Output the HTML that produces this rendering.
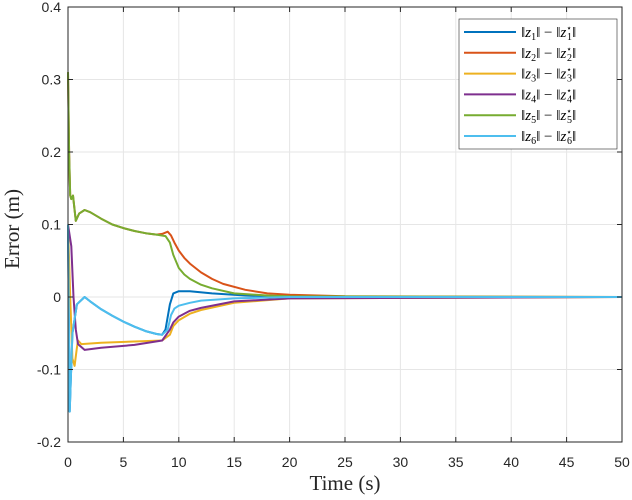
<!DOCTYPE html>
<html><head><meta charset="utf-8"><style>
body{margin:0;background:#fff;}
svg{display:block;font-family:"Liberation Serif",serif;}
</style></head><body>
<svg id="chart" width="632" height="500"></svg>
<script>
const xTicks=[0,5,10,15,20,25,30,35,40,45,50];
const yTicks=[-0.2,-0.1,0,0.1,0.2,0.3,0.4];
const yTickLabels=["-0.2","-0.1","0","0.1","0.2","0.3","0.4"];
const t1=[0,0.15,0.4,0.8,1.5,2,3,4,5,6,7,8,8.5,8.8,9.2,9.5,10,11,13,16,20,50];
const v1=[0.1,-0.158,-0.05,-0.01,0,-0.006,-0.017,-0.026,-0.034,-0.041,-0.047,-0.051,-0.052,-0.045,-0.01,0.005,0.008,0.008,0.005,0.002,0,0];
const t2=[0,0.1,0.2,0.3,0.45,0.7,1,1.5,2,3,4,5,6,7,8,8.5,9,9.3,9.6,10,10.5,11,12,13,14,16,18,20,25,50];
const v2=[0.31,0.2,0.14,0.135,0.14,0.105,0.115,0.12,0.117,0.108,0.1,0.095,0.091,0.088,0.086,0.087,0.09,0.085,0.075,0.064,0.054,0.046,0.034,0.025,0.018,0.01,0.005,0.003,0.001,0];
const t3=[0,0.2,0.4,0.6,0.8,0.9,1.2,3,8.5,9.2,9.5,10,11,12,15,20,50];
const v3=[0.1,0.0,-0.085,-0.095,-0.07,-0.06,-0.065,-0.063,-0.06,-0.052,-0.04,-0.032,-0.023,-0.018,-0.008,-0.002,0];
const t4=[0,0.3,0.5,0.7,0.9,1.5,3,6,8.5,9.2,9.5,10,11,12,15,20,50];
const v4=[0.1,0.07,0.0,-0.045,-0.065,-0.073,-0.07,-0.066,-0.06,-0.045,-0.035,-0.027,-0.019,-0.015,-0.006,-0.002,0];
const t5=[0,0.1,0.2,0.3,0.45,0.7,1,1.5,2,3,4,5,6,7,8,8.8,9.2,9.5,10,10.5,11,12,13,15,18,20,50];
const v5=[0.31,0.2,0.14,0.135,0.14,0.105,0.115,0.12,0.117,0.108,0.1,0.095,0.091,0.088,0.086,0.084,0.075,0.058,0.04,0.031,0.025,0.017,0.012,0.005,0.002,0.001,0];
const t6=[0,0.15,0.4,0.8,1.5,2,3,4,5,6,7,8,8.5,9,9.3,9.6,10,11,12,15,20,50];
const v6=[0.1,-0.158,-0.05,-0.01,0,-0.006,-0.017,-0.026,-0.034,-0.041,-0.047,-0.051,-0.052,-0.045,-0.025,-0.016,-0.012,-0.008,-0.005,-0.002,0,0];
const series=[[t1,v1,"#0072BD"],[t2,v2,"#D95319"],[t3,v3,"#EDB120"],[t4,v4,"#7E2F8E"],[t5,v5,"#77AC30"],[t6,v6,"#4DBEEE"]];
const L=68,R=622,T=7,B=442;
const X=t=>L+(t/50)*(R-L);
const Y=v=>B-((v+0.2)/0.6)*(B-T);
const svg=document.getElementById('chart');
const NS="http://www.w3.org/2000/svg";
function mk(tag,a,parent){const e=document.createElementNS(NS,tag);for(const k in a)e.setAttribute(k,a[k]);(parent||svg).appendChild(e);return e;}
const grid=mk('g',{});


xTicks.forEach(t=>{mk('line',{x1:X(t),x2:X(t),y1:T,y2:B,stroke:'#e6e6e6','stroke-width':1},grid);});
yTicks.forEach(v=>{mk('line',{x1:L,x2:R,y1:Y(v),y2:Y(v),stroke:'#e6e6e6','stroke-width':1},grid);});
series.forEach((s,i)=>{
  const pts=s[0].map((t,j)=>X(t).toFixed(1)+','+Y(s[1][j]).toFixed(1)).join(' ');
  const p=mk('polyline',{points:pts,fill:'none',stroke:s[2],'stroke-width':2,'stroke-linejoin':'round'});
  
  
});
const ax=mk('rect',{x:L,y:T,width:R-L,height:B-T,fill:'none',stroke:'#262626','stroke-width':1});


xTicks.forEach(t=>{
  mk('line',{x1:X(t),x2:X(t),y1:B,y2:B-5,stroke:'#262626'});mk('line',{x1:X(t),x2:X(t),y1:T,y2:T+5,stroke:'#262626'});
  const tx=mk('text',{x:X(t),y:B+25,'text-anchor':'middle','font-size':14,fill:'#262626','font-family':'Liberation Sans, sans-serif'});
  tx.textContent=t;
  
  
});
yTicks.forEach((v,i)=>{
  mk('line',{x1:L,x2:L+5,y1:Y(v),y2:Y(v),stroke:'#262626'});mk('line',{x1:R,x2:R-5,y1:Y(v),y2:Y(v),stroke:'#262626'});
  const tx=mk('text',{x:L-7,y:Y(v)+5,'text-anchor':'end','font-size':14,fill:'#262626','font-family':'Liberation Sans, sans-serif'});
  tx.textContent=yTickLabels[i];
  
  
});
const xt=mk('text',{x:(L+R)/2,y:490,'text-anchor':'middle','font-size':21,fill:'#262626'});
xt.textContent='Time (s)';


const yt=mk('text',{x:0,y:0,'text-anchor':'middle','font-size':21,fill:'#262626',transform:'translate(19,229) rotate(-90)'});
yt.textContent='Error (m)';


const lg=mk('g',{});


mk('rect',{x:459,y:19,width:158,height:130,fill:'#fff',stroke:'#262626','stroke-width':0.6},lg);
series.forEach((s,i)=>{
  const y=32+i*20.8;
  mk('line',{x1:464,x2:516,y1:y,y2:y,stroke:s[2],'stroke-width':2},lg);
  const tx=mk('text',{x:521,y:y+5,'font-size':15,fill:'#000'},lg);
  tx.innerHTML='‖<tspan font-style="italic">z</tspan><tspan font-size="10" dy="3">'+(i+1)+'</tspan><tspan dy="-3">‖ − ‖</tspan><tspan font-style="italic">z</tspan><tspan font-size="9" dy="-6">⋆</tspan><tspan font-size="10" dx="-5" dy="9">'+(i+1)+'</tspan><tspan dy="-3">‖</tspan>';
  
  
});
</script>
</body></html>
